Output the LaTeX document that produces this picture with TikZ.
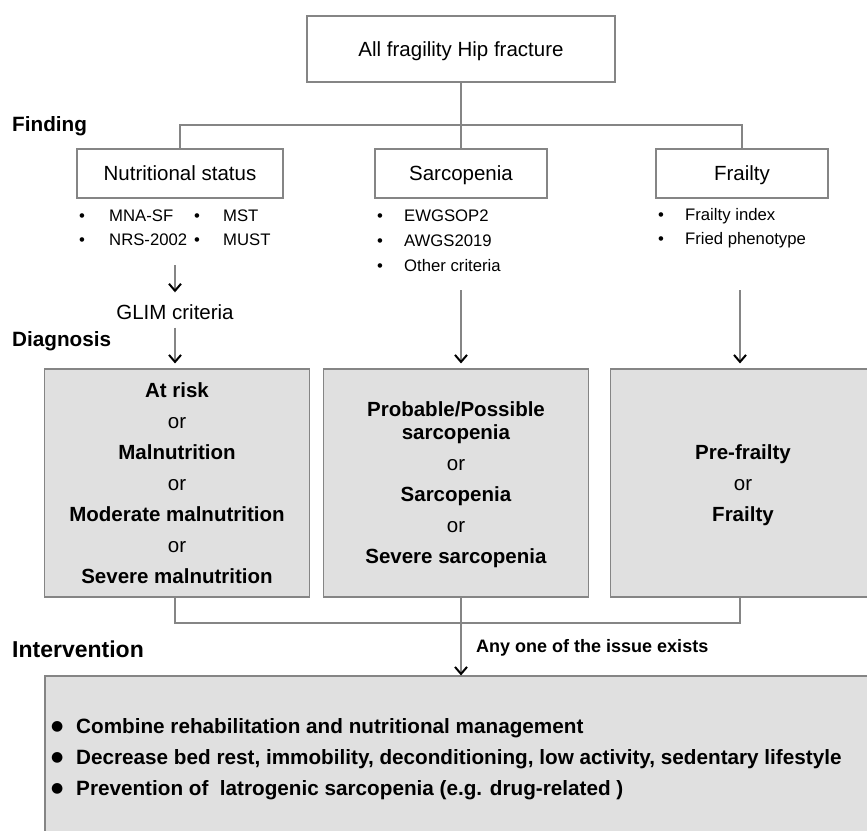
\documentclass[tikz,border=0pt]{standalone}
\usepackage{fontspec}
\setmainfont{Liberation Sans}
\newfontfamily\dejavu{DejaVu Sans}
\usetikzlibrary{arrows.meta}
\definecolor{linegray}{HTML}{858585}
\definecolor{boxfill}{HTML}{E0E0E0}
\newcommand{\bigdot}{\makebox[25pt][l]{\raisebox{2.5pt}{\dejavu\fontsize{14}{14}\selectfont ●}}}
\begin{document}
\begin{tikzpicture}[x=1pt,y=-1pt,
  ln/.style={draw=linegray,line width=1.1pt},
  arr/.style={ln,-{Straight Barb[length=7pt,width=12pt,line width=2pt,color=black]}},
  wbox/.style={draw=linegray,line width=1.1pt,fill=white,inner sep=0pt,text depth=0pt,font=\fontsize{20.5}{24}\selectfont},
  gbox/.style={draw=linegray,line width=1.1pt,fill=boxfill,inner sep=0pt,align=center,text depth=-2pt,
    font=\fontsize{20.5}{23}\selectfont,minimum width=265pt,minimum height=228pt},
  lab/.style={anchor=west,inner sep=0pt,font=\fontsize{20.7}{24}\selectfont\bfseries},
  blist/.style={anchor=west,inner sep=0pt,align=left,font=\fontsize{16.7}{24}\selectfont},
  txt/.style={inner sep=0pt,font=\fontsize{20.5}{24}\selectfont},
]
\useasboundingbox (0,0) rectangle (867,830);
\clip (0,0) rectangle (867,830);

% top
\node[wbox,minimum width=308pt,minimum height=66pt] (top) at (461,49) {All fragility Hip fracture};

% labels
\node[lab] (finding) at (12,126) {Finding};
\node[lab] (diagnosis) at (12,341) {Diagnosis};
\node[lab,font=\fontsize{23}{26}\selectfont\bfseries] (intervention) at (12,649) {Intervention};

% finding boxes
\node[wbox,minimum width=206pt,minimum height=49pt] (nut) at (180,173.5) {Nutritional status};
\node[wbox,minimum width=172pt,minimum height=49pt] (sar) at (461,173.5) {Sarcopenia};
\node[wbox,minimum width=172pt,minimum height=49pt] (fra) at (742,173.5) {Frailty};

% tree lines
\coordinate (hb) at (461,125);
\draw[ln] (top.south) -- (hb);
\draw[ln] (nut.north) |- (hb) -| (fra.north);
\draw[ln] (hb) -- (sar.north);

% bullet lists
\node[blist] (nutl) at (79,228) {\makebox[30pt][l]{•}MNA-SF\\\makebox[30pt][l]{•}NRS-2002};
\node[blist] (nutr) at (194,228) {\makebox[29pt][l]{•}MST\\\makebox[29pt][l]{•}MUST};
\node[blist,font=\fontsize{16.7}{25}\selectfont] (sarl) at (377,241) {\makebox[27pt][l]{•}EWGSOP2\\\makebox[27pt][l]{•}AWGS2019\\\makebox[27pt][l]{•}Other criteria};
\node[blist] (fral) at (658,228.5) {\makebox[27pt][l]{•}Frailty index\\\makebox[27pt][l]{•}Fried phenotype};

% GLIM
\node[txt,text height=15pt,text depth=0pt] (glim) at (175,312) {GLIM criteria};

% diagnosis boxes
\node[gbox] (box1) at (177,483) {\textbf{At risk}\\[8pt]or\\[8pt]\textbf{Malnutrition}\\[8pt]or\\[8pt]\textbf{Moderate malnutrition}\\[8pt]or\\[8pt]\textbf{Severe malnutrition}};
\node[gbox] (box2) at (456,483) {\textbf{Probable/Possible}\\\textbf{sarcopenia}\\[8pt]or\\[8pt]\textbf{Sarcopenia}\\[8pt]or\\[8pt]\textbf{Severe sarcopenia}};
\node[gbox] (box3) at (743,483) {\textbf{Pre-frailty}\\[8pt]or\\[8pt]\textbf{Frailty}};

% arrows into diagnosis
\coordinate (n1) at (175,265);
\draw[arr,shorten >=12pt] (n1) -- (glim.north);
\draw[arr,shorten <=8pt,shorten >=5pt] (glim.south) -- (glim.south |- box1.north);
\coordinate (s1) at (461,290);
\draw[arr,shorten >=5pt] (s1) -- (s1 |- box2.north);
\coordinate (f1) at (740,290);
\draw[arr,shorten >=5pt] (f1) -- (f1 |- box3.north);

% intervention box
\node[draw=linegray,line width=1.1pt,fill=boxfill,minimum width=855pt,minimum height=204pt,inner sep=0pt] (intbox) at (472.5,778) {};

% merge lines
\coordinate (hb2) at (461,623);
\draw[ln] (box1.south -| glim) |- (hb2) -| (box3.south -| f1);
\draw[arr] (box2.south -| hb2) -- (intbox.north -| hb2);
\node[anchor=west,inner sep=0pt,font=\fontsize{18}{20}\selectfont\bfseries] (anyone) at (476,648) {Any one of the issue exists};

% intervention items
\node[anchor=west,inner sep=0pt,align=left,font=\fontsize{20.7}{31}\selectfont\bfseries] (items) at (51,759)
 {\bigdot Combine rehabilitation and nutritional management\\
  \bigdot Decrease bed rest, immobility, deconditioning, low activity, sedentary lifestyle\\
  \bigdot Prevention of~ latrogenic sarcopenia (e.g. drug-related )};
\end{tikzpicture}
\end{document}
